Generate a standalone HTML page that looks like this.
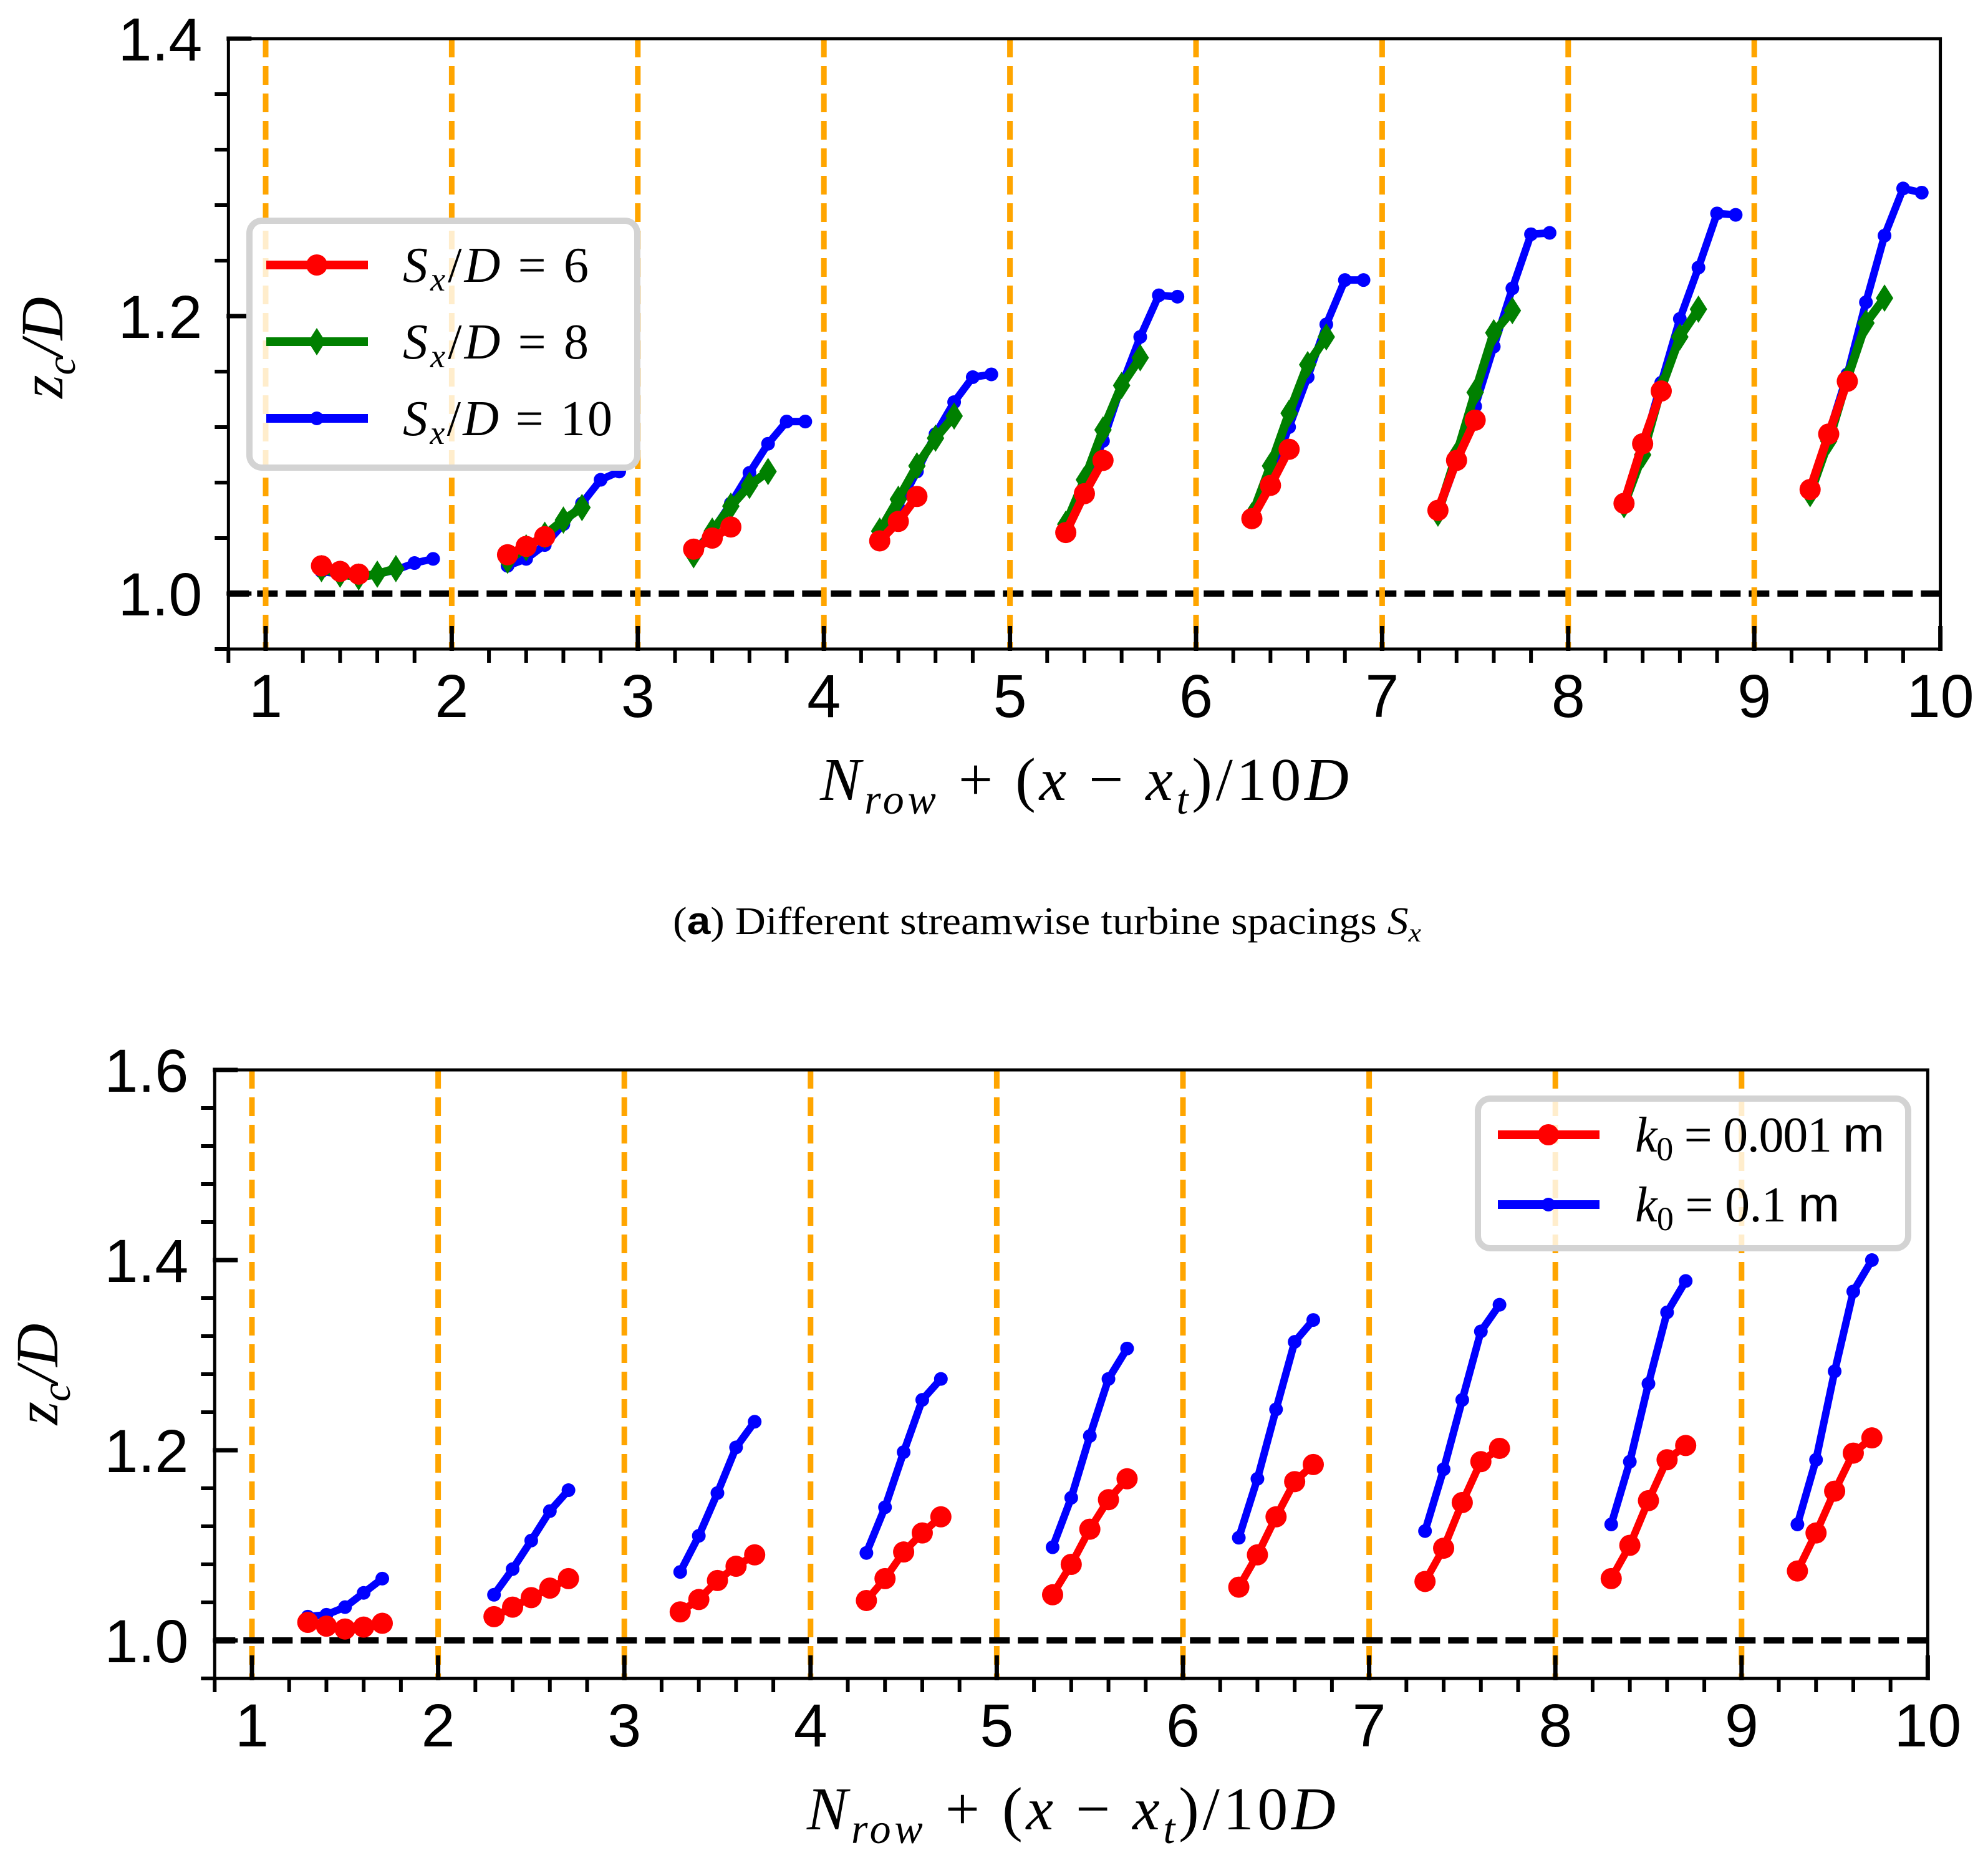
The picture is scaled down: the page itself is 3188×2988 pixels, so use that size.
<!DOCTYPE html>
<html><head><meta charset="utf-8"><style>
html,body{margin:0;padding:0;background:#fff}
svg{display:block}
.tk{font-family:"Liberation Sans",Arial,sans-serif;font-size:97px;fill:#000}
.mt{font-family:"Liberation Serif","DejaVu Serif",serif;fill:#000}
</style></head><body>
<svg id="fig" xmlns="http://www.w3.org/2000/svg" width="3188" height="2988" viewBox="0 0 3188 2988">
<rect width="3188" height="2988" fill="#fff"/>
<g id="pa"></g>
<g id="pb"></g>
<text class="mt" x="1079" y="1498" font-size="62" textLength="1200" lengthAdjust="spacingAndGlyphs">(<tspan font-family="Liberation Sans, sans-serif" font-weight="bold">a</tspan>) Different streamwise turbine spacings <tspan font-style="italic">S</tspan><tspan font-style="italic" font-size="42" dy="12">x</tspan></text>
</svg>
<script>
// ---- Panel (a) data ----
const rowsA = [1,2,3,4,5,6,7,8,9];
const offsSx6 = [0.3,0.4,0.5];
const offsSx8 = [0.3,0.4,0.5,0.6,0.7];
const offsSx10 = [0.3,0.4,0.5,0.6,0.7,0.8,0.9];
const sx6 = [
 [1.020,1.016,1.014],[1.028,1.034,1.041],[1.032,1.040,1.048],[1.038,1.052,1.070],[1.044,1.072,1.096],
 [1.054,1.078,1.104],[1.060,1.096,1.125],[1.065,1.108,1.146],[1.075,1.115,1.153]];
const sx8 = [
 [1.018,1.014,1.012,1.014,1.018],[1.024,1.033,1.042,1.053,1.062],[1.028,1.045,1.063,1.078,1.088],
 [1.045,1.068,1.092,1.112,1.128],[1.050,1.082,1.118,1.150,1.170],[1.056,1.092,1.130,1.165,1.185],
 [1.058,1.100,1.145,1.188,1.204],[1.064,1.100,1.148,1.185,1.205],[1.072,1.110,1.155,1.195,1.213]];
const sx10 = [
 [1.016,1.014,1.012,1.014,1.017,1.022,1.025],[1.020,1.025,1.035,1.050,1.065,1.082,1.088],
 [1.030,1.045,1.065,1.087,1.108,1.124,1.124],[1.040,1.062,1.088,1.115,1.138,1.156,1.158],
 [1.046,1.075,1.110,1.150,1.185,1.215,1.214],[1.056,1.085,1.120,1.156,1.194,1.226,1.226],
 [1.058,1.095,1.135,1.178,1.220,1.259,1.260],[1.066,1.105,1.152,1.198,1.235,1.274,1.273],
 [1.076,1.115,1.158,1.210,1.258,1.292,1.289]];
// ---- Panel (b) data ----
const offsK = [0.3,0.4,0.5,0.6,0.7];
const k001 = [
 [1.019,1.015,1.012,1.014,1.018],[1.025,1.035,1.045,1.055,1.065],[1.030,1.043,1.063,1.078,1.090],
 [1.042,1.065,1.093,1.113,1.130],[1.048,1.080,1.117,1.148,1.170],[1.056,1.090,1.130,1.167,1.185],
 [1.062,1.097,1.145,1.188,1.202],[1.065,1.100,1.147,1.190,1.205],[1.073,1.113,1.157,1.197,1.213]];
const k01 = [
 [1.025,1.027,1.035,1.050,1.065],[1.048,1.075,1.105,1.136,1.158],[1.072,1.110,1.155,1.203,1.230],
 [1.092,1.140,1.198,1.253,1.275],[1.098,1.150,1.215,1.275,1.307],[1.108,1.170,1.243,1.314,1.337],
 [1.115,1.180,1.253,1.325,1.353],[1.122,1.188,1.270,1.345,1.378],[1.122,1.190,1.283,1.367,1.400]];
const xTicks = [1,2,3,4,5,6,7,8,9,10];
const yTicksA = ['1.0','1.2','1.4'];
const yTicksB = ['1.0','1.2','1.4','1.6'];

const NS='http://www.w3.org/2000/svg';
function mk(p,tag,at){const e=document.createElementNS(NS,tag);for(const k in at)e.setAttribute(k,at[k]);p.appendChild(e);return e;}

function axes(g,cfg){
  const X=v=>cfg.x1+(v-1)*cfg.ux, Y=v=>cfg.y1-(v-1)*cfg.uy;
  const L=X(0.8),R=X(10),T=Y(cfg.ymax),B=Y(0.96);
  let e=mk(g,'line',{x1:L,x2:R,y1:Y(1),y2:Y(1),stroke:'#000','stroke-width':10,'stroke-dasharray':'33 13'});
  
  
  for(let n=1;n<=9;n++){
    e=mk(g,'line',{x1:X(n),x2:X(n),y1:T,y2:B,stroke:'#FFA500','stroke-width':9,'stroke-dasharray':'30 14'});
    
    
  }
  for(let i=0;i<=46;i++){const v=0.8+i*0.2; if(Math.abs(v-Math.round(v))<1e-6)continue;
    e=mk(g,'line',{x1:X(v),x2:X(v),y1:B,y2:B+22,stroke:'#000','stroke-width':6});
    
    }
  xTicks.forEach(v=>{
    e=mk(g,'line',{x1:X(v),x2:X(v),y1:B-37,y2:B+3,stroke:'#000','stroke-width':7});
    
    
    e=mk(g,'text',{x:X(v),y:B+109,'text-anchor':'middle',class:'tk'});e.textContent=v;
    
    
  });
  for(let v=0.96;v<=cfg.ymax+1e-6;v+=0.04){
    const maj=Math.abs(v*5-Math.round(v*5))<1e-6;
    e=mk(g,'line',{x1:maj?L-3:L-22,x2:maj?L+37:L,y1:Y(v),y2:Y(v),stroke:'#000','stroke-width':maj?7:6});
    
    
  }
  cfg.yt.forEach(s=>{
    e=mk(g,'text',{x:L-42,y:Y(+s)+35,'text-anchor':'end',class:'tk'});e.textContent=s;
    
    
  });
  e=mk(g,'rect',{x:L,y:T,width:R-L,height:B-T,fill:'none',stroke:'#000','stroke-width':5});
  
  
  const cx=(L+R)/2;
  e=mk(g,'text',{x:cx-424,y:B+242,class:'mt','font-size':98,'font-style':'italic'});
  e.innerHTML='N<tspan font-size="68" dy="22">row</tspan><tspan font-style="normal" dy="-22"> + (</tspan>x<tspan font-style="normal"> − </tspan>x<tspan font-size="68" dy="22">t</tspan><tspan font-style="normal" dy="-22">)/10</tspan>D';
  e.setAttribute('textLength',848);
  
  
  const ym=(T+B)/2+cfg.ylOff;
  e=mk(g,'text',{x:0,y:0,class:'mt','font-size':96,'font-style':'italic','text-anchor':'middle',transform:`translate(${cfg.ylx},${ym}) rotate(-90)`});
  e.innerHTML='z<tspan font-size="66" dy="20">c</tspan><tspan dy="-20">/D</tspan>';
  
  
  return {X,Y};
}

function series(g,ax,offs,vals,color,lw,marker,name){
  const sg=mk(g,'g',{});
  
  
  vals.forEach((row,ri)=>{
    const n=ri+1;
    const pts=row.map((v,i)=>[ax.X(n+offs[i]),ax.Y(v)]);
    let e=mk(sg,'polyline',{points:pts.map(p=>p.join(',')).join(' '),fill:'none',stroke:color,'stroke-width':lw,'stroke-linejoin':'round'});
    
    
    pts.forEach(p=>{
      e=marker(sg,p[0],p[1]);
      
      
    });
  });
}
const mCirc=(c,r)=>(g,x,y)=>mk(g,'circle',{cx:x,cy:y,r:r,fill:c});
const mDia=c=>(g,x,y)=>mk(g,'polygon',{points:`${x},${y-22} ${x+14},${y} ${x},${y+22} ${x-14},${y}`,fill:c});

function legend(g,x,y,w,h,items){
  const lg=mk(g,'g',{});
  
  
  let e=mk(lg,'rect',{x:x,y:y,width:w,height:h,rx:20,fill:'rgba(255,255,255,0.8)',stroke:'#d3d3d3','stroke-width':10});
  
  
  items.forEach(it=>{
    const eg=mk(lg,'g',{});
    
    
    mk(eg,'line',{x1:it.lx,x2:it.lx+163,y1:it.y,y2:it.y,stroke:it.c,'stroke-width':14});
    it.m(eg,it.lx+81,it.y);
    const t=mk(eg,'text',{x:it.tx,y:it.y+27,class:'mt','font-size':80});
    t.innerHTML=it.html;
    if(it.tl)t.setAttribute('textLength',it.tl);
  });
}

const ga=document.getElementById('pa');
const axA=axes(ga,{x1:426,ux:298.4,y1:952,uy:2225,ymax:1.4,yt:yTicksA,ylx:100,ylOff:6});
series(ga,axA,offsSx10,sx10,'#0000ff',12,mCirc('#0000ff',11),'sx-d-10');
series(ga,axA,offsSx8,sx8,'#008000',14,mDia('#008000'),'sx-d-8');
series(ga,axA,offsSx6,sx6,'#ff0000',14,mCirc('#ff0000',17),'sx-d-6');
legend(ga,400,354,622,396,[
 {y:425,lx:427,tx:646,c:'#ff0000',m:mCirc('#ff0000',17),tl:298,html:'<tspan font-style="italic">S</tspan><tspan font-style="italic" font-size="54" dy="14">x</tspan><tspan dy="-14">/</tspan><tspan font-style="italic">D</tspan> = 6'},
 {y:548,lx:427,tx:646,c:'#008000',m:mDia('#008000'),tl:298,html:'<tspan font-style="italic">S</tspan><tspan font-style="italic" font-size="54" dy="14">x</tspan><tspan dy="-14">/</tspan><tspan font-style="italic">D</tspan> = 8'},
 {y:671,lx:427,tx:646,c:'#0000ff',m:mCirc('#0000ff',11),tl:336,html:'<tspan font-style="italic">S</tspan><tspan font-style="italic" font-size="54" dy="14">x</tspan><tspan dy="-14">/</tspan><tspan font-style="italic">D</tspan> = 10'}]);

const gb=document.getElementById('pb');
const axB=axes(gb,{x1:404,ux:298.6,y1:2631,uy:1525,ymax:1.6,yt:yTicksB,ylx:92,ylOff:0});
series(gb,axB,offsK,k01,'#0000ff',12,mCirc('#0000ff',11),'k0-0.1');
series(gb,axB,offsK,k001,'#ff0000',12,mCirc('#ff0000',17),'k0-0.001');
legend(gb,2370,1762,690,240,[
 {y:1820,lx:2402,tx:2622,c:'#ff0000',m:mCirc('#ff0000',17),tl:400,html:'<tspan font-style="italic">k</tspan><tspan font-size="54" dy="14">0</tspan><tspan dy="-14"> = 0.001 </tspan><tspan font-family="Liberation Sans, sans-serif">m</tspan>'},
 {y:1932,lx:2402,tx:2622,c:'#0000ff',m:mCirc('#0000ff',11),tl:328,html:'<tspan font-style="italic">k</tspan><tspan font-size="54" dy="14">0</tspan><tspan dy="-14"> = 0.1 </tspan><tspan font-family="Liberation Sans, sans-serif">m</tspan>'}]);
</script>
</body></html>
